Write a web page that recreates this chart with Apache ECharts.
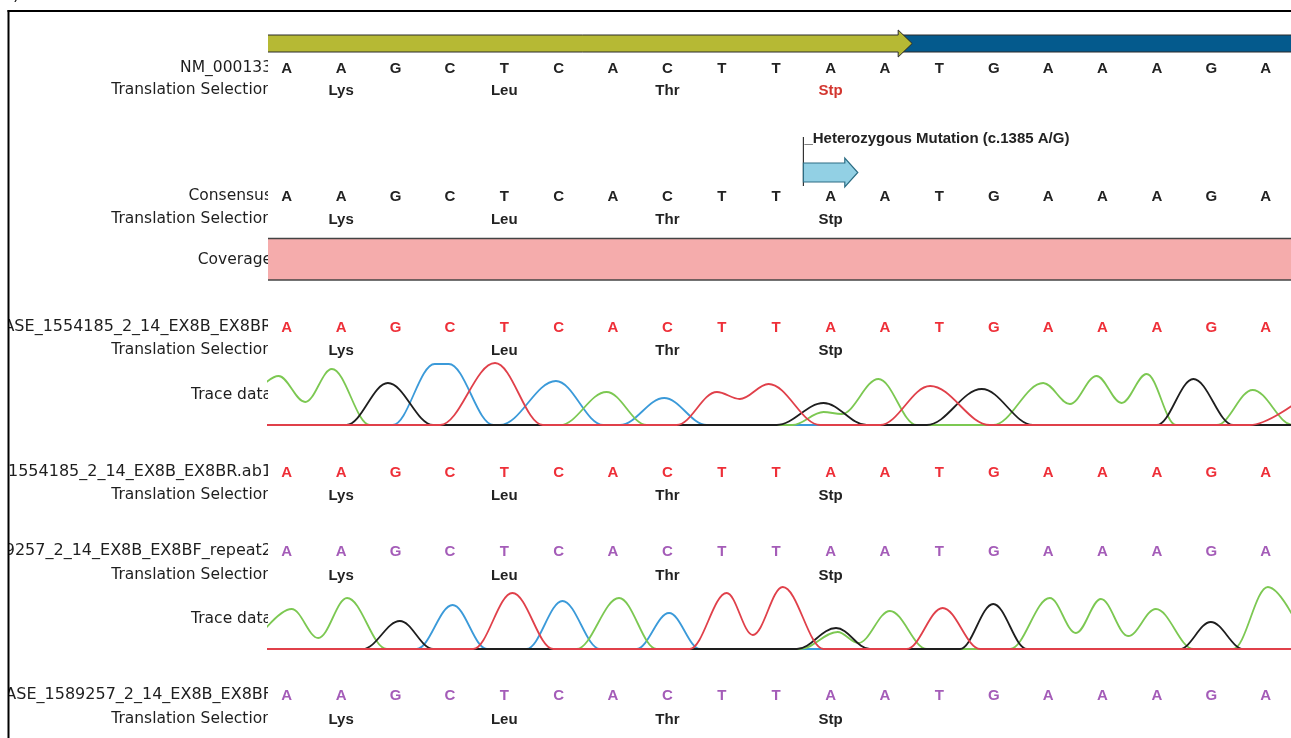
<!DOCTYPE html>
<html>
<head>
<meta charset="utf-8">
<script src="https://cdn.jsdelivr.net/npm/echarts@6/dist/echarts.min.js"></script>
<style>
html,body{margin:0;padding:0;background:#fff;}
#chart{width:1291px;height:738px;}
</style>
</head>
<body>
<div id="chart"></div>
<script>
//---- sequence (F9, NM_000133) shown in every row
var bases = ['A','A','G','C','T','C','A','C','T','T','A','A','T','G','A','A','A','G','A'];
//---- translation: amino acid and base index of its codon centre
var aminoAcids = ['Lys','Leu','Thr','Stp'];
var aminoPos = [1, 4, 7, 10];
//---- annotations (base coordinates)
var mutationText = '_Heterozygous Mutation (c.1385 A/G)';
var featNames = ['UTR', 'CDS', 'Mutation', 'Coverage'];
var featStart = [11.3, -1, 9.5, -1];
var featEnd = [20, 11.5, 10.5, 20];

//---- trace 1 (CASE_1554185 ... EX8BR.ab1): [base position, signal]
var trace1Green = [[-0.55,34],[-0.15,49],[0.34,23],[0.83,56],[1.53,0],[5.03,0],[5.88,33],[6.62,0],[9.3,0],[9.87,13],[10.2,11],[10.88,46],[11.58,0],[12.99,0],[13.91,42],[14.4,21],[14.89,49],[15.35,22],[15.81,51],[16.35,0],[17.1,0],[17.76,35],[18.5,0],[19,0]];
var trace1Black = [[-1,0],[1.1,0],[1.86,42],[2.69,0],[9.01,0],[9.87,22],[10.66,0],[11.77,0],[12.78,36],[13.72,0],[16.0,0],[16.67,46],[17.4,0],[19,0]];
var trace1Blue = [[-1,0],[1.95,0],[2.72,61],[2.98,61],[3.8,0],[3.92,0],[4.95,44],[5.82,0],[6.13,0],[6.94,27],[7.72,0],[19,0]];
var trace1Red = [[-1,0],[2.82,0],[3.83,62],[4.71,0],[7.17,0],[7.91,33],[8.33,26],[8.86,41],[9.81,0],[10.91,0],[11.83,39],[12.93,0],[17.71,0],[18.6,24]];

//---- trace 2 (CASE_1589257 ... EX8BF_repeat2)
var trace2Green = [[-0.6,6],[0.09,40],[0.58,11],[1.11,51],[1.84,0],[5.33,0],[6.11,51],[6.8,0],[9.44,0],[10.13,17],[10.51,6],[11.09,38],[11.77,0],[13.3,0],[14.03,51],[14.51,16],[14.97,50],[15.47,13],[15.98,40],[16.67,0],[17.4,0],[18.04,62],[18.8,0]];
var trace2Black = [[-1,0],[1.4,0],[2.08,28],[2.69,0],[9.38,0],[10.1,21],[10.72,0],[12.38,0],[12.99,45],[13.61,0],[16.42,0],[16.99,27],[17.59,0],[19,0]];
var trace2Blue = [[-1,0],[2.39,0],[3.05,44],[3.68,0],[4.41,0],[5.07,48],[5.76,0],[6.43,0],[7.03,36],[7.6,0],[19,0]];
var trace2Red = [[-1,0],[3.43,0],[4.15,56],[4.9,0],[7.41,0],[8.09,56],[8.57,14],[9.12,62],[9.87,0],[11.4,0],[12.06,41],[12.75,0],[19,0]];

//---- rows of the viewer
var rows = [
    {label:'NM_000133', y:68, kind:'seq', color:'#222'},
    {label:'Translation Selection', y:90, kind:'aa', stop:'#d3362f'},
    {label:'Consensus', y:196, kind:'seq', color:'#222'},
    {label:'Translation Selection', y:219, kind:'aa'},
    {label:'Coverage', y:260},
    {label:'CASE_1554185_2_14_EX8B_EX8BR', y:327, kind:'seq', color:'#ee2f38', wide:true},
    {label:'Translation Selection', y:350, kind:'aa'},
    {label:'Trace data', y:395},
    {label:'CASE_1554185_2_14_EX8B_EX8BR.ab1', y:472, kind:'seq', color:'#ee2f38', wide:true},
    {label:'Translation Selection', y:495, kind:'aa'},
    {label:'CASE_1589257_2_14_EX8B_EX8BF_repeat2', y:551, kind:'seq', color:'#a45cb8', wide:true},
    {label:'Translation Selection', y:575, kind:'aa'},
    {label:'Trace data', y:619},
    {label:'CASE_1589257_2_14_EX8B_EX8BF', y:695, kind:'seq', color:'#a45cb8', wide:true},
    {label:'Translation Selection', y:719, kind:'aa'}
];

var labelFont = '15.5px "DejaVu Sans", sans-serif';
var nameFont = '16px "DejaVu Sans", sans-serif';
var baseFont = 'bold 15px "Liberation Sans", Arial, sans-serif';

//---- build text items
var labelItems = [];
var textItems = [];
rows.forEach(function(r){
    labelItems.push({x:-0.27, y:r.y, text:r.label, font:r.wide ? nameFont : labelFont});
    if(r.kind === 'seq'){
        bases.forEach(function(b, i){
            textItems.push({x:i, y:r.y, text:b, color:r.color});
        });
    }else if(r.kind === 'aa'){
        aminoAcids.forEach(function(a, i){
            textItems.push({x:aminoPos[i], y:r.y, text:a, color:(a === 'Stp' && r.stop) ? r.stop : '#222'});
        });
    }
});

var chart = echarts.init(document.getElementById('chart'));

function traceSeries(name, data, color, idx){
    return {
        name:name, type:'line', xAxisIndex:idx, yAxisIndex:idx,
        data:data, smooth:0.36, smoothMonotone:'x', symbol:'none',
        clip:true, silent:true, z:4,
        lineStyle:{color:color, width:1.8}
    };
}

var option = {
    animation:false,
    backgroundColor:'#fff',
    grid:[
        {left:0, right:0, top:0, bottom:0},           //---text
        {left:268, right:0, top:0, bottom:0},         //---annotation bars
        {left:268, right:0, top:361, height:64},      //---trace 1
        {left:268, right:0, top:585, height:64}       //---trace 2
    ],
    xAxis:[
        {type:'value', gridIndex:0, min:-5.271, max:18.465, show:false},
        {type:'value', gridIndex:1, min:-0.344, max:18.465, show:false},
        {type:'value', gridIndex:2, min:-0.344, max:18.465, show:false},
        {type:'value', gridIndex:3, min:-0.344, max:18.465, show:false}
    ],
    yAxis:[
        {type:'value', gridIndex:0, min:0, max:738, inverse:true, show:false},
        {type:'value', gridIndex:1, min:0, max:738, inverse:true, show:false},
        {type:'value', gridIndex:2, min:0, max:64, show:false},
        {type:'value', gridIndex:3, min:0, max:64, show:false}
    ],
    graphic:[
        {type:'rect', z:2, silent:true, shape:{x:268, y:12, width:12.5, height:726}, style:{fill:'#fff'}},
        {type:'rect', z:2, silent:true, shape:{x:0, y:12, width:8, height:726}, style:{fill:'#fff'}},
        {type:'line', z:10, silent:true, shape:{x1:7.5, y1:11, x2:1291, y2:11}, style:{stroke:'#000', lineWidth:2}},
        {type:'line', z:10, silent:true, shape:{x1:8.5, y1:10, x2:8.5, y2:738}, style:{stroke:'#000', lineWidth:2}},
        {type:'text', z:10, silent:true, x:13, y:-13, style:{text:')', font:'17px "DejaVu Sans", sans-serif', fill:'#222'}}
    ],
    series:[
        {//---row labels (clipped by the white cover)
            type:'custom', xAxisIndex:0, yAxisIndex:0, z:1, silent:true,
            data:labelItems.map(function(t){ return [t.x, t.y]; }),
            renderItem:function(params, api){
                var t = labelItems[params.dataIndex];
                var p = api.coord([api.value(0), api.value(1)]);
                return {type:'text', x:p[0], y:p[1],
                    style:{text:t.text, fill:'#1e1e1e', font:t.font, align:'right', verticalAlign:'middle'}};
            }
        },
        {//---bases and amino acids
            type:'custom', xAxisIndex:0, yAxisIndex:0, z:5, silent:true,
            data:textItems.map(function(t){ return [t.x, t.y]; }),
            renderItem:function(params, api){
                var t = textItems[params.dataIndex];
                var p = api.coord([api.value(0), api.value(1)]);
                return {type:'text', x:p[0], y:p[1] + 1,
                    style:{text:t.text, fill:t.color, font:baseFont, align:'center', verticalAlign:'middle'}};
            }
        },
        {//---annotation bars / arrows
            type:'custom', xAxisIndex:1, yAxisIndex:1, z:4, silent:true, clip:true,
            data:featNames.map(function(n, i){ return [featStart[i], featEnd[i]]; }),
            renderItem:function(params, api){
                var name = featNames[params.dataIndex];
                var x0 = api.coord([api.value(0), 0])[0];
                var x1 = api.coord([api.value(1), 0])[0];
                if(name === 'UTR'){
                    return {type:'rect', shape:{x:x0, y:35, width:x1 - x0, height:17},
                        style:{fill:'#045a8d', stroke:'#2a2a2a', lineWidth:1}};
                }
                if(name === 'CDS'){
                    var xh = x1 - 14;
                    return {type:'polygon', shape:{points:[[x0,35],[xh,35],[xh,30],[x1,43.5],[xh,57],[xh,52],[x0,52]]},
                        style:{fill:'#b6b934', stroke:'#2a2a2a', lineWidth:1}};
                }
                if(name === 'Mutation'){
                    var mh = x1 - 13;
                    return {type:'group', children:[
                        {type:'line', shape:{x1:x0, y1:137, x2:x0, y2:186}, style:{stroke:'#333', lineWidth:1.2}},
                        {type:'polygon', shape:{points:[[x0,163],[mh,163],[mh,158],[x1,172.5],[mh,187],[mh,182],[x0,182]]},
                            style:{fill:'#92d0e4', stroke:'#2c6d84', lineWidth:1.2}},
                        {type:'text', x:x0 + 1, y:139,
                            style:{text:mutationText, fill:'#222', font:'bold 15px "Liberation Sans", Arial, sans-serif', align:'left', verticalAlign:'middle'}}
                    ]};
                }
                //---coverage
                return {type:'group', children:[
                    {type:'rect', shape:{x:x0, y:238, width:x1 - x0, height:42}, style:{fill:'#f5acac'}},
                    {type:'line', shape:{x1:x0, y1:238.5, x2:x1, y2:238.5}, style:{stroke:'#444', lineWidth:1.5}},
                    {type:'line', shape:{x1:x0, y1:280, x2:x1, y2:280}, style:{stroke:'#444', lineWidth:1.5}}
                ]};
            }
        },
        traceSeries('T1 C', trace1Blue, '#3b9ad9', 2),
        traceSeries('T1 A', trace1Green, '#7cc852', 2),
        traceSeries('T1 G', trace1Black, '#1e1e1e', 2),
        traceSeries('T1 T', trace1Red, '#e0404a', 2),
        traceSeries('T2 C', trace2Blue, '#3b9ad9', 3),
        traceSeries('T2 A', trace2Green, '#7cc852', 3),
        traceSeries('T2 G', trace2Black, '#1e1e1e', 3),
        traceSeries('T2 T', trace2Red, '#e0404a', 3)
    ]
};
chart.setOption(option);
</script>
</body>
</html>
